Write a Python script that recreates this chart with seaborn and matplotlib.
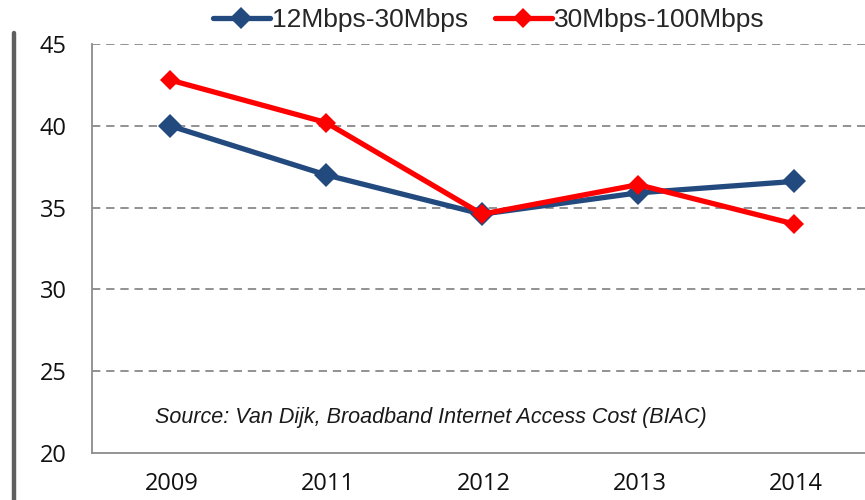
import matplotlib
matplotlib.use("Agg")
import matplotlib.pyplot as plt
import matplotlib.transforms as mtransforms
from matplotlib.lines import Line2D
import seaborn as sns
import pandas as pd

years = ["2009", "2011", "2012", "2013", "2014"]
speed_12_30 = [40.0, 37.0, 34.6, 35.9, 36.6]
speed_30_100 = [42.8, 40.2, 34.6, 36.4, 34.0]
series_names = ["12Mbps-30Mbps", "30Mbps-100Mbps"]
series_colors = ["#234A7E", "#FF0000"]
y_ticks = [20, 25, 30, 35, 40, 45]
source_note = "Source: Van Dijk, Broadband Internet Access Cost (BIAC)"

df = pd.DataFrame({
    "year": years * 2,
    "value": speed_12_30 + speed_30_100,
    "series": [series_names[0]] * len(years) + [series_names[1]] * len(years),
})

sns.set_style("white")
plt.rcParams["font.family"] = ["Liberation Sans", "DejaVu Sans"]

fig = plt.figure(figsize=(8.65, 5.0), dpi=100)
ax = fig.add_axes([92 / 865, 47 / 500, (872 - 92) / 865, (453 - 44) / 500])

marker_sizes = [12.5, 10]
for name, color, ms in zip(series_names, series_colors, marker_sizes):
    sns.lineplot(data=df[df["series"] == name], x="year", y="value",
                 color=color, marker="D", markersize=ms, markeredgewidth=0,
                 linewidth=3.8, sort=False, legend=False, ax=ax, zorder=3)

ax.set_xlim(-0.5, 4.5)
ax.set_ylim(20, 45)
ax.set_yticks(y_ticks)
ax.set_xlabel("")
ax.set_ylabel("")

# dashed horizontal gridlines above the baseline
for v in y_ticks[1:]:
    ax.axhline(v, color="#7F7F7F", lw=1.2, ls=(0, (5, 3.5)), zorder=1)

for s in ["top", "right"]:
    ax.spines[s].set_visible(False)
for s in ["left", "bottom"]:
    ax.spines[s].set_color("#8C8C8C")
    ax.spines[s].set_linewidth(1.3)

ax.tick_params(axis="y", which="major", length=0, pad=18, labelsize=17)
ax.tick_params(axis="x", which="major", length=0, pad=14, labelsize=17)
for lab in ax.get_yticklabels() + ax.get_xticklabels():
    lab.set_fontfamily(["Open Sans", "DejaVu Sans"])
    lab.set_color("#111111")
offset = mtransforms.ScaledTranslation(2 / 100, 0, fig.dpi_scale_trans)
for lab in ax.get_xticklabels():
    lab.set_transform(lab.get_transform() + offset)

ax.text(155 / 865, 1 - 418 / 500, source_note, transform=fig.transFigure,
        fontsize=15.5, fontstyle="italic", va="center", ha="left",
        color="#1A1A1A")

# legend across the top
handles = [Line2D([], [], color=c, lw=3.8, marker="D", markersize=ms,
                  markeredgewidth=0)
           for c, ms in zip(series_colors, [11.5, 10.5])]
fig.legend(handles, series_names, loc="center", bbox_to_anchor=(489 / 865, 1 - 20 / 500),
           ncol=2, frameon=False, fontsize=19, handlelength=2.15,
           handletextpad=0.1, columnspacing=1.0, borderpad=0, borderaxespad=0)

# thick grey rule at the left edge
fig.add_artist(Line2D([14 / 865, 14 / 865], [0, 1 - 33 / 500],
                      transform=fig.transFigure, color="#5F5F5F", lw=3.2))

fig.savefig("out.png", dpi=100)
